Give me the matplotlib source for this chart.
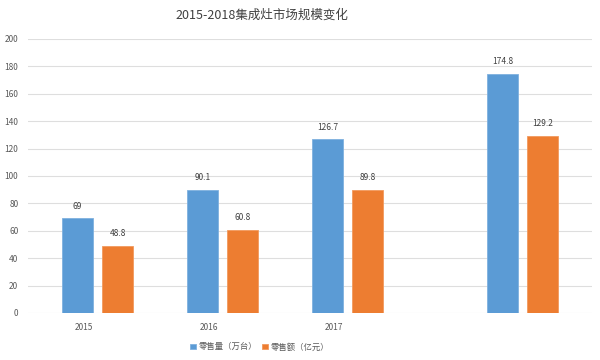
import matplotlib
matplotlib.use("Agg")
import matplotlib.pyplot as plt
import numpy as np

plt.rcParams['font.family'] = ['Noto Sans CJK SC', 'DejaVu Sans']

years = ['2015', '2016', '2017', '']
volume = [69, 90.1, 126.7, 174.8]     # 零售量（万台）
sales = [48.8, 60.8, 89.8, 129.2]     # 零售额（亿元）
yticks = [0, 20, 40, 60, 80, 100, 120, 140, 160, 180, 200]

blue = '#5B9BD5'
orange = '#ED7D31'
txt = '#595959'

fig = plt.figure(figsize=(6, 3.6), dpi=100)
ax = fig.add_axes([0.0467, 0.1306, 0.94, 0.7611])

# last group sits further right in the original picture
group_x = np.array([0, 1, 2, 3.4])
w = 0.248
off = 0.16

b1 = ax.bar(group_x - off, volume, w, color=blue, edgecolor='#7fb1df', linewidth=0.6,
            label='零售量（万台）', zorder=3)
b2 = ax.bar(group_x + off, sales, w, color=orange, edgecolor='#f29a5e', linewidth=0.6,
            label='零售额（亿元）', zorder=3)

for bars in (b1, b2):
    for r in bars:
        v = r.get_height()
        ax.annotate(f'{v:g}', (r.get_x() + r.get_width() / 2, v),
                    xytext=(0, 5.5), textcoords='offset points',
                    ha='center', va='bottom', fontsize=6, color='#404040')

ax.set_xlim(-0.556, 3.956)
ax.set_ylim(0, 200)
ax.set_yticks(yticks)
ax.set_xticks(group_x - 0.11)
ax.set_xticklabels(years)
ax.tick_params(axis='both', length=0, labelsize=6, colors=txt)
ax.tick_params(axis='x', pad=7)
ax.tick_params(axis='y', pad=7)
ax.grid(axis='y', color='#dedede', linewidth=0.8, zorder=0)
for s in ax.spines.values():
    s.set_visible(False)

fig.suptitle('2015-2018集成灶市场规模变化', x=0.437, y=0.975, fontsize=9, color='#404040')

ax.legend(loc='upper center', bbox_to_anchor=(0.411, -0.08), ncol=2, frameon=False,
          fontsize=6, handlelength=0.7, handleheight=0.7, handletextpad=0.3,
          columnspacing=0.6, labelcolor=txt)

fig.savefig('out.png', dpi=100, facecolor='white')
